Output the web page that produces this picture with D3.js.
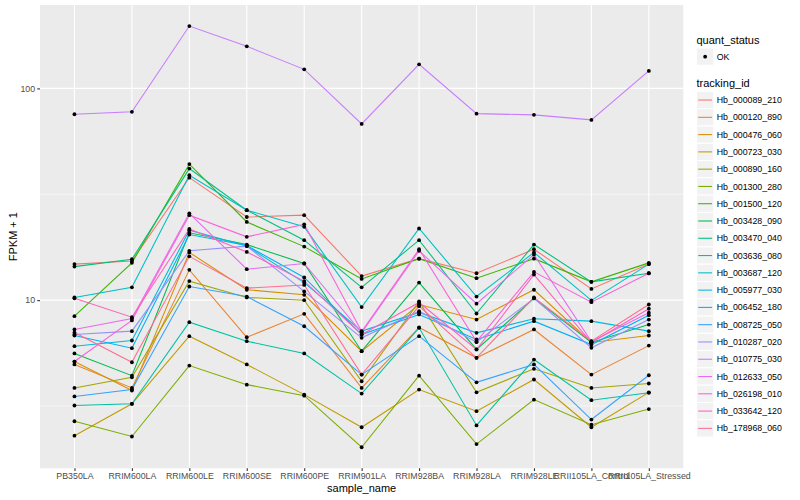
<!DOCTYPE html>
<html>
<head>
<meta charset="utf-8">
<script src="https://cdn.jsdelivr.net/npm/d3@7"></script>
<style>
body { margin: 0; background: #ffffff; }
text { font-family: "Liberation Sans", Arial, Helvetica, sans-serif; }
</style>
</head>
<body>
<svg id="Chart"></svg>
<script>
// samples on the x axis
const samples = ["PB350LA", "RRIM600LA", "RRIM600LE", "RRIM600SE", "RRIM600PE", "RRIM901LA",
    "RRIM928BA", "RRIM928LA", "RRIM928LE", "RRII105LA_Control", "RRII105LA_Stressed"]

const trackingIds = ["Hb_000089_210", "Hb_000120_890", "Hb_000476_060", "Hb_000723_030", "Hb_000890_160",
    "Hb_001300_280", "Hb_001500_120", "Hb_003428_090", "Hb_003470_040", "Hb_003636_080",
    "Hb_003687_120", "Hb_005977_030", "Hb_006452_180", "Hb_008725_050", "Hb_010287_020",
    "Hb_010775_030", "Hb_012633_050", "Hb_026198_010", "Hb_033642_120", "Hb_178968_060"]

// ggplot hue palette for 20 levels
const palette = ["#F8766D", "#EA8331", "#D89000", "#C09B00", "#A3A500", "#7CAE00", "#39B600", "#00BB4E",
    "#00BF7D", "#00C1A3", "#00BFC4", "#00BAE0", "#00B0F6", "#35A2FF", "#9590FF", "#C77CFF",
    "#E76BF3", "#FA62DB", "#FF62BC", "#FF6C91"]

const quantStatus = ["OK"]
const yTicks = [10, 100]

// FPKM + 1, one array per gene, in sample order
const hb_000089_210 = [14.8, 15.3, 37.9, 24.7, 25.2, 13.0, 15.7, 13.4, 17.4, 11.3, 14.8]
const hb_000120_890 = [4.97, 3.85, 13.9, 6.68, 8.62, 3.85, 7.43, 5.34, 7.27, 4.45, 6.1]
const hb_000476_060 = [5.13, 3.74, 16.8, 11.2, 10.6, 5.74, 9.54, 8.1, 11.2, 6.31, 6.81]
const hb_000723_030 = [2.29, 3.24, 6.76, 4.97, 3.58, 2.51, 3.78, 2.99, 4.22, 2.51, 3.67]
const hb_000890_160 = [3.85, 4.32, 12.3, 10.3, 10.0, 4.14, 9.86, 3.67, 4.74, 3.85, 4.04]
const hb_001300_280 = [2.68, 2.27, 4.91, 3.99, 3.54, 2.02, 4.40, 2.09, 3.39, 2.58, 3.06]
const hb_001500_120 = [8.4, 15.0, 43.9, 23.4, 17.9, 12.6, 15.7, 12.7, 15.7, 12.2, 15.0]
const hb_003428_090 = [5.6, 4.4, 20.8, 18.3, 14.9, 5.74, 12.1, 5.85, 10.2, 6.31, 7.67]
const hb_003470_040 = [14.4, 15.6, 41.8, 26.6, 19.2, 11.5, 19.2, 8.65, 18.3, 12.2, 13.4]
const hb_003636_080 = [3.18, 3.24, 7.87, 6.4, 5.6, 3.62, 7.4, 2.56, 5.24, 3.37, 3.65]
const hb_003687_120 = [10.3, 11.5, 38.9, 26.6, 22.2, 9.27, 21.8, 10.4, 16.8, 9.97, 14.8]
const hb_005977_030 = [6.06, 6.45, 21.4, 18.0, 12.1, 7.14, 8.75, 7.01, 8.17, 7.96, 7.14]
const hb_006452_180 = [6.81, 5.93, 20.4, 18.1, 12.8, 6.88, 8.56, 6.52, 7.96, 6.17, 8.49]
const hb_008725_050 = [3.51, 3.78, 11.6, 10.4, 7.53, 4.45, 6.76, 4.09, 4.97, 2.73, 4.42]
const hb_010287_020 = [6.88, 7.14, 17.1, 18.0, 11.0, 6.64, 8.87, 6.33, 10.2, 5.96, 8.1]
const hb_010775_030 = [75.5, 77.5, 197, 158, 123, 68, 130, 76, 75, 71, 121]
const hb_012633_050 = [7.27, 8.19, 25.7, 14.0, 14.9, 7.03, 17.1, 9.62, 16.4, 6.38, 8.72]
const hb_026198_010 = [5.13, 8.02, 25.2, 19.9, 22.8, 7.11, 17.4, 6.38, 13.6, 9.78, 13.4]
const hb_033642_120 = [10.2, 8.31, 21.7, 16.9, 12.3, 6.88, 9.75, 5.85, 13.2, 6.31, 9.11]
const hb_178968_060 = [7.03, 5.09, 16.1, 11.4, 11.8, 4.45, 9.37, 5.34, 10.3, 6.4, 9.54]

const seriesValues = [hb_000089_210, hb_000120_890, hb_000476_060, hb_000723_030, hb_000890_160,
    hb_001300_280, hb_001500_120, hb_003428_090, hb_003470_040, hb_003636_080,
    hb_003687_120, hb_005977_030, hb_006452_180, hb_008725_050, hb_010287_020,
    hb_010775_030, hb_012633_050, hb_026198_010, hb_033642_120, hb_178968_060]

let config = {}
let store = {}

function initConfig() {
    let width = 800
    let height = 500
    let panel = {left: 40, right: 683.3, top: 5, bottom: 468.3}
    let panelColor = "#EBEBEB"
    let textColor = "#4D4D4D"
    let tickColor = "#333333"
    let container = d3.select("#Chart")
        .attr("width", width)
        .attr("height", height)
    config = {width, height, panel, panelColor, textColor, tickColor, container}
}

function buildData() {
    store.series = trackingIds.map((id, i) => ({
        id: id,
        color: palette[i],
        values: samples.map((s, j) => ({sample: s, value: seriesValues[i][j], status: quantStatus[0]}))
    }))
}

function getScales() {
    let {panel} = config
    let x = d3.scalePoint()
        .domain(samples)
        .range([panel.left, panel.right])
        .padding(0.6)

    // ggplot style 5% expansion in log space
    let allValues = seriesValues.flat()
    let [lo, hi] = d3.extent(allValues).map(Math.log10)
    let pad = (hi - lo) * 0.05
    let y = d3.scaleLog()
        .domain([Math.pow(10, lo - pad), Math.pow(10, hi + pad)])
        .range([panel.bottom, panel.top])

    store.x = x
    store.y = y
    return {x, y}
}

function drawPanel() {
    let {container, panel, panelColor, textColor, tickColor} = config
    let {x, y} = store

    container.append("rect")
        .attr("x", panel.left)
        .attr("y", panel.top)
        .attr("width", panel.right - panel.left)
        .attr("height", panel.bottom - panel.top)
        .attr("fill", panelColor)

    // minor grid halfway between the decades
    let minor = yTicks.map(t => t / Math.sqrt(10))
    container.selectAll(".minor").data(minor)
        .enter().append("line")
        .attr("x1", panel.left).attr("x2", panel.right)
        .attr("y1", d => y(d)).attr("y2", d => y(d))
        .attr("stroke", "#ffffff")
        .attr("stroke-width", 0.55)

    container.selectAll(".major-y").data(yTicks)
        .enter().append("line")
        .attr("x1", panel.left).attr("x2", panel.right)
        .attr("y1", d => y(d)).attr("y2", d => y(d))
        .attr("stroke", "#ffffff")
        .attr("stroke-width", 1.1)

    container.selectAll(".major-x").data(samples)
        .enter().append("line")
        .attr("x1", d => x(d)).attr("x2", d => x(d))
        .attr("y1", panel.top).attr("y2", panel.bottom)
        .attr("stroke", "#ffffff")
        .attr("stroke-width", 1.1)

    // axes
    let xAxis = d3.axisBottom(x).tickSize(2.75).tickPadding(2.2)
    let gx = container.append("g")
        .attr("transform", `translate(0,${panel.bottom})`)
        .call(xAxis)
    gx.select(".domain").remove()
    gx.selectAll(".tick line").attr("stroke", tickColor).attr("stroke-width", 1.1)
    gx.selectAll(".tick text")
        .attr("fill", textColor)
        .style("font-size", "8.8px")
        .style("font-family", "'Liberation Sans', Arial, sans-serif")

    let yAxis = d3.axisLeft(y).tickValues(yTicks).tickFormat(d3.format("d")).tickSize(2.75).tickPadding(2.2)
    let gy = container.append("g")
        .attr("transform", `translate(${panel.left},0)`)
        .call(yAxis)
    gy.select(".domain").remove()
    gy.selectAll(".tick line").attr("stroke", tickColor).attr("stroke-width", 1.1)
    gy.selectAll(".tick text")
        .attr("fill", textColor)
        .style("font-size", "8.8px")
        .style("font-family", "'Liberation Sans', Arial, sans-serif")

    container.append("text")
        .attr("x", (panel.left + panel.right) / 2)
        .attr("y", 491.5)
        .attr("text-anchor", "middle")
        .style("font-size", "11px")
        .attr("fill", "#000000")
        .text("sample_name")

    container.append("text")
        .attr("transform", `translate(16.5,${(panel.top + panel.bottom) / 2}) rotate(-90)`)
        .attr("text-anchor", "middle")
        .style("font-size", "11px")
        .attr("fill", "#000000")
        .text("FPKM + 1")
}

function drawLines() {
    let {container} = config
    let {x, y, series} = store
    let line = d3.line()
        .x(d => x(d.sample))
        .y(d => y(d.value))

    container.append("g").selectAll("path").data(series)
        .enter().append("path")
        .attr("d", d => line(d.values))
        .attr("fill", "none")
        .attr("stroke", d => d.color)
        .attr("stroke-width", 1.07)

    let points = series.flatMap(s => s.values)
    container.append("g").selectAll("circle").data(points)
        .enter().append("circle")
        .attr("cx", d => x(d.sample))
        .attr("cy", d => y(d.value))
        .attr("r", 1.9)
        .attr("fill", "#000000")
}

function drawLegend() {
    let {container} = config
    let {series} = store
    let left = 696.5
    let keySize = 17.28

    container.append("text")
        .attr("x", left).attr("y", 43.5)
        .style("font-size", "11px")
        .text("quant_status")

    let qs = container.append("g").attr("transform", `translate(${left},48)`)
    qs.selectAll("rect").data(quantStatus)
        .enter().append("rect")
        .attr("width", keySize).attr("height", keySize)
        .attr("fill", "#F2F2F2").attr("stroke", "#ffffff")
    qs.selectAll("circle").data(quantStatus)
        .enter().append("circle")
        .attr("cx", keySize / 2).attr("cy", keySize / 2)
        .attr("r", 1.9).attr("fill", "#000000")
    qs.selectAll("text").data(quantStatus)
        .enter().append("text")
        .attr("x", keySize + 3).attr("y", keySize / 2)
        .attr("dy", "0.35em")
        .style("font-size", "8.8px")
        .text(d => d)

    container.append("text")
        .attr("x", left).attr("y", 87)
        .style("font-size", "11px")
        .text("tracking_id")

    let keys = container.append("g").attr("transform", `translate(${left},91.4)`)
        .selectAll("g").data(series)
        .enter().append("g")
        .attr("transform", (d, i) => `translate(0,${i * keySize})`)
    keys.append("rect")
        .attr("width", keySize).attr("height", keySize)
        .attr("fill", "#F2F2F2").attr("stroke", "#ffffff")
    keys.append("line")
        .attr("x1", 1.7).attr("x2", keySize - 1.7)
        .attr("y1", keySize / 2).attr("y2", keySize / 2)
        .attr("stroke", d => d.color)
        .attr("stroke-width", 1.07)
    keys.append("text")
        .attr("x", keySize + 3).attr("y", keySize / 2)
        .attr("dy", "0.35em")
        .style("font-size", "8.8px")
        .text(d => d.id)
}

function showChart() {
    initConfig()
    buildData()
    getScales()
    drawPanel()
    drawLines()
    drawLegend()
}

window.addEventListener("load", showChart)
</script>
</body>
</html>
